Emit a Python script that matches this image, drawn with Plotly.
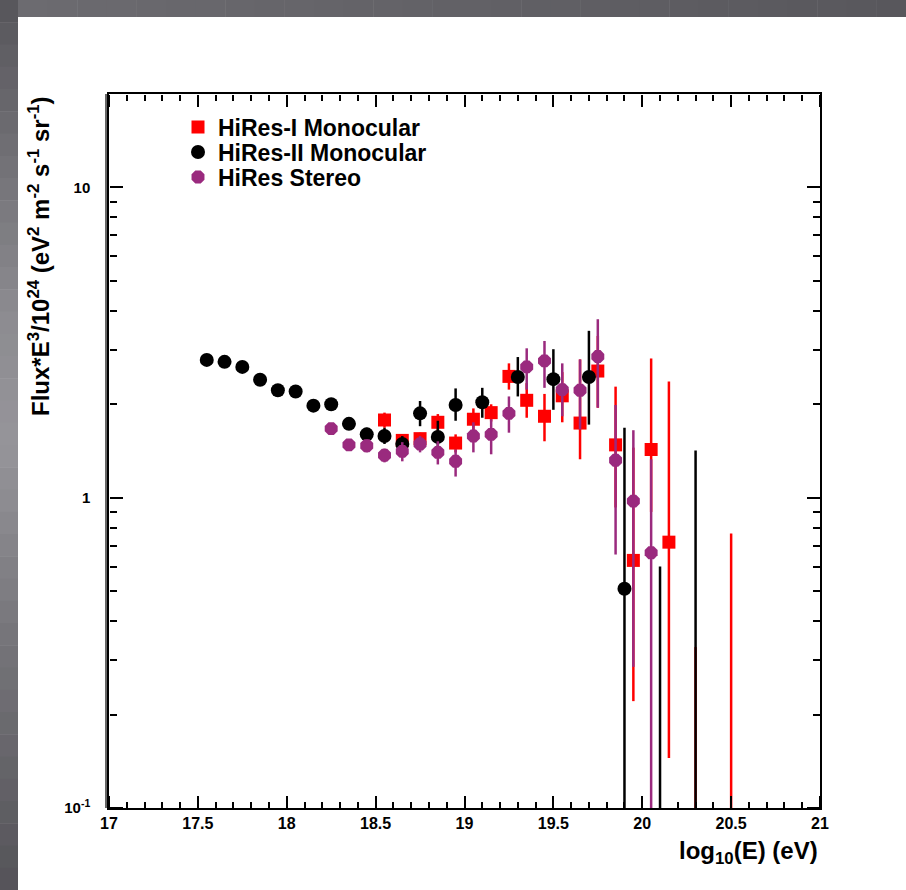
import numpy as np
import plotly.graph_objects as go

# ---------------- data ----------------
# HiRes-I Monocular (red squares)
hr1_x = [18.55, 18.65, 18.75, 18.85, 18.95, 19.05, 19.15, 19.25, 19.35, 19.45,
         19.55, 19.65, 19.75, 19.85, 19.95, 20.05, 20.15, 20.3, 20.5]
hr1_y = [1.78, 1.53, 1.55, 1.75, 1.50, 1.79, 1.88, 2.46, 2.06, 1.83,
         2.13, 1.74, 2.56, 1.48, 0.628, 1.43, 0.719, 0.05, 0.05]
hr1_hi = [1.88, 1.60, 1.62, 1.86, 1.60, 1.94, 2.00, 2.71, 2.34, 2.16,
          2.54, 2.79, 3.32, 2.28, 1.45, 2.81, 2.37, 0.33, 0.767]
hr1_lo = [1.68, 1.46, 1.48, 1.64, 1.40, 1.62, 1.76, 2.23, 1.81, 1.52,
          1.75, 1.33, 1.95, 0.93, 0.221, 0.90, 0.145, 0.05, 0.05]

# HiRes-II Monocular (black circles)
hr2_x = [17.55, 17.65, 17.75, 17.85, 17.95, 18.05, 18.15, 18.25, 18.35, 18.45,
         18.55, 18.65, 18.75, 18.85, 18.95, 19.1, 19.3, 19.5, 19.7, 19.9,
         20.1, 20.3]
hr2_y = [2.78, 2.74, 2.64, 2.40, 2.22, 2.20, 1.98, 2.00, 1.73, 1.60,
         1.58, 1.49, 1.87, 1.57, 1.99, 2.03, 2.45, 2.41, 2.45, 0.509,
         0.05, 0.05]
hr2_hi = [2.84, 2.80, 2.70, 2.46, 2.28, 2.27, 2.05, 2.08, 1.80, 1.68,
          1.68, 1.58, 2.05, 1.77, 2.25, 2.26, 2.84, 3.01, 3.45, 1.68,
          0.60, 1.42]
hr2_lo = [2.72, 2.68, 2.58, 2.34, 2.16, 2.13, 1.91, 1.92, 1.66, 1.51,
          1.49, 1.41, 1.70, 1.40, 1.77, 1.81, 2.12, 1.92, 1.72, 0.05,
          0.05, 0.05]

# HiRes Stereo (purple)
st_x = [18.25, 18.35, 18.45, 18.55, 18.65, 18.75, 18.85, 18.95, 19.05, 19.15,
        19.25, 19.35, 19.45, 19.55, 19.65, 19.75, 19.85, 19.95, 20.05]
st_y = [1.67, 1.48, 1.47, 1.37, 1.41, 1.49, 1.40, 1.31, 1.58, 1.60,
        1.87, 2.64, 2.76, 2.23, 2.22, 2.85, 1.32, 0.975, 0.665]
st_hi = [1.71, 1.53, 1.54, 1.44, 1.51, 1.58, 1.52, 1.43, 1.75, 1.79,
         2.12, 3.03, 3.20, 2.71, 2.79, 3.76, 1.99, 1.65, 1.33]
st_lo = [1.63, 1.43, 1.40, 1.30, 1.31, 1.40, 1.28, 1.17, 1.40, 1.38,
         1.62, 2.23, 2.26, 1.83, 1.66, 1.95, 0.656, 0.285, 0.05]

x_range = [17, 21]
x_major = [17, 17.5, 18, 18.5, 19, 19.5, 20, 20.5, 21]
x_major_text = ["17", "17.5", "18", "18.5", "19", "19.5", "20", "20.5", "21"]
x_minor = [round(17 + 0.1 * k, 1) for k in range(41) if k % 5 != 0]
y_range = [0.1, 20]
y_major = [0.1, 1, 10]
y_major_text = ["10<sup>-1</sup>", "1", "10"]
y_minor = [0.2, 0.3, 0.4, 0.5, 0.6, 0.7, 0.8, 0.9,
           2, 3, 4, 5, 6, 7, 8, 9]

FONT = "Liberation Sans, Arial, Helvetica, sans-serif"
RED = "#ff0000"
BLACK = "#000000"
PURPLE = "#9a2a7e"


def errs(y, hi, lo):
    y = np.array(y)
    return (np.array(hi) - y).tolist(), (y - np.array(lo)).tolist()


# plot-area geometry (pixels) used to place decorations
W, H = 906, 890
L, R, T, B = 109, 86, 94, 82
pw, ph = W - L - R, H - T - B


def px(xp):
    return (xp - L) / pw


def py(yp):
    return (H - B - yp) / ph


fig = go.Figure()

series = [
    ("HiRes-I Monocular", hr1_x, hr1_y, hr1_hi, hr1_lo, RED, "square", 13, "legend", 127),
    ("HiRes-II Monocular", hr2_x, hr2_y, hr2_hi, hr2_lo, BLACK, "circle", 14, "legend2", 152),
    ("HiRes Stereo", st_x, st_y, st_hi, st_lo, PURPLE, "octagon", 14, "legend3", 177),
]
legends = {}
for name, x, y, hi, lo, col, sym, sz, lg, ly in series:
    plus, minus = errs(y, hi, lo)
    fig.add_trace(go.Scatter(
        x=x, y=y, name=name, mode="markers", legend=lg,
        marker=dict(color=col, symbol=sym, size=sz, line=dict(width=0)),
        error_y=dict(type="data", symmetric=False, array=plus, arrayminus=minus,
                     color=col, thickness=2.5, width=0),
    ))
    legends[lg] = dict(x=px(178), y=py(ly), xanchor="left", yanchor="middle",
                       font=dict(family=FONT, size=23, weight="bold", color="black"),
                       bgcolor="rgba(0,0,0,0)", borderwidth=0, itemwidth=30)

# invisible copies on the tick-only overlay axes so they get drawn
for xa, ya in (("x2", "y2"), ("x3", "y3")):
    fig.add_trace(go.Scatter(x=hr2_x, y=hr2_y, xaxis=xa, yaxis=ya, mode="markers",
                             marker=dict(opacity=0), showlegend=False, hoverinfo="skip"))

shapes = []


def lerp(c1, c2, t):
    return "#%02x%02x%02x" % tuple(int(round(a + (b - a) * t)) for a, b in zip(c1, c2))


# grey slide border (left + top), approximated gradient
stops = [(0.0, (86, 85, 90)), (0.35, (140, 139, 144)), (0.5, (150, 149, 154)),
         (0.7, (120, 119, 124)), (1.0, (84, 83, 88))]
n = 40
for i in range(n):
    t = (i + 0.5) / n
    for (t0, c0), (t1, c1) in zip(stops[:-1], stops[1:]):
        if t0 <= t <= t1:
            col = lerp(c0, c1, (t - t0) / (t1 - t0))
            break
    y0 = H * i / n
    y1 = H * (i + 1) / n + 0.5
    shapes.append(dict(type="rect", xref="paper", yref="paper",
                       x0=px(0), x1=px(18), y0=py(y1), y1=py(y0),
                       fillcolor=col, line=dict(width=0), layer="above"))
m = 30
for i in range(m):
    t = (i + 0.5) / m
    col = lerp((108, 107, 112), (88, 87, 92), t)
    x0 = 18 + (W - 18) * i / m
    x1 = 18 + (W - 18) * (i + 1) / m + 0.5
    shapes.append(dict(type="rect", xref="paper", yref="paper",
                       x0=px(x0), x1=px(x1), y0=py(17), y1=py(0),
                       fillcolor=col, line=dict(width=0), layer="above"))
# ROOT-style double frame line on the left
shapes.append(dict(type="line", xref="paper", yref="paper",
                   x0=px(106), x1=px(106), y0=0, y1=1,
                   line=dict(color="black", width=1.2)))

# tick-only axes: "outside" ticks of an axis placed on the opposite edge point inward
x_ticks = dict(
    range=x_range, tickmode="array", tickvals=x_major,
    ticks="outside", ticklen=12, tickwidth=2, tickcolor="black",
    minor=dict(tickmode="array", tickvals=x_minor, ticks="outside", ticklen=6,
               tickwidth=2, tickcolor="black", showgrid=False),
    showgrid=False, zeroline=False, showticklabels=False, showline=False,
    overlaying="x", anchor="free",
)
y_ticks = dict(
    type="log", range=[np.log10(y_range[0]), np.log10(y_range[1])],
    tickmode="array", tickvals=y_major,
    ticks="outside", ticklen=13, tickwidth=2, tickcolor="black",
    minor=dict(tickmode="array", tickvals=y_minor, ticks="outside", ticklen=7,
               tickwidth=2, tickcolor="black", showgrid=False),
    showgrid=False, zeroline=False, showticklabels=False, showline=False,
    overlaying="y", anchor="free",
)

fig.update_layout(
    width=W, height=H,
    margin=dict(l=L, r=R, t=T, b=B),
    paper_bgcolor="white", plot_bgcolor="white",
    font=dict(family=FONT, color="black"),
    showlegend=True,
    shapes=shapes,
    annotations=[
        dict(text="log<sub>10</sub>(E) (eV)", xref="paper", yref="paper",
             x=1, y=py(852), xanchor="right", yanchor="middle", showarrow=False,
             font=dict(family=FONT, size=24, weight="bold", color="black")),
        dict(text="Flux*E<sup>3</sup>/10<sup>24</sup> (eV<sup>2</sup> m<sup>-2</sup> "
                  "s<sup>-1</sup> sr<sup>-1</sup>)",
             xref="paper", yref="paper", x=px(39), y=1,
             xanchor="center", yanchor="top", textangle=-90, showarrow=False,
             font=dict(family=FONT, size=24, weight="bold", color="black")),
    ],
    xaxis=dict(range=x_range, tickmode="array", tickvals=x_major, ticktext=x_major_text,
               ticks="", showgrid=False, zeroline=False,
               showline=True, linecolor="black", linewidth=1.5, mirror=True,
               tickfont=dict(family=FONT, size=16, weight="bold", color="black")),
    yaxis=dict(type="log", range=[np.log10(y_range[0]), np.log10(y_range[1])],
               tickmode="array", tickvals=y_major, ticktext=y_major_text,
               ticks="", showgrid=False, zeroline=False,
               showline=True, linecolor="black", linewidth=1.5, mirror=True,
               tickfont=dict(family=FONT, size=15, weight="bold", color="black"),
               ticklabelstandoff=14),
    xaxis2=dict(**x_ticks, side="top", position=0),      # bottom edge, ticks up
    xaxis3=dict(**x_ticks, side="bottom", position=1),   # top edge, ticks down
    yaxis2=dict(**y_ticks, side="right", position=0),    # left edge, ticks right
    yaxis3=dict(**y_ticks, side="left", position=1),     # right edge, ticks left
    **legends,
)

fig.write_html("out.html", config={"displayModeBar": False},
               post_script="document.body.style.margin='0';document.body.style.overflow='hidden';")
